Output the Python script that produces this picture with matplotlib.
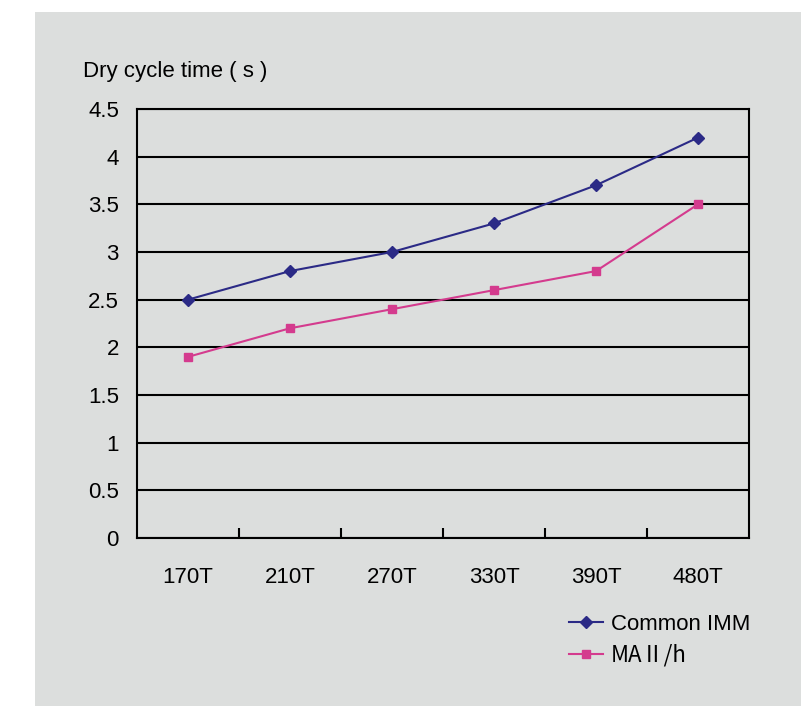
import matplotlib
matplotlib.use("Agg")
import matplotlib.pyplot as plt
from matplotlib.patches import Rectangle
import numpy as np

plt.rcParams['font.family'] = ['Liberation Sans', 'DejaVu Sans']

# datos
categorias = ['170T', '210T', '270T', '330T', '390T', '480T']
common_imm = [2.5, 2.8, 3.0, 3.3, 3.7, 4.2]
ma2h = [1.9, 2.2, 2.4, 2.6, 2.8, 3.5]
yticks = [0, 0.5, 1, 1.5, 2, 2.5, 3, 3.5, 4, 4.5]
ytick_labels = ['0', '0.5', '1', '1.5', '2', '2.5', '3', '3.5', '4', '4.5']

W, H = 807, 706
fig = plt.figure(figsize=(W / 100, H / 100), dpi=100)
fig.patch.set_facecolor('white')
gris = '#dcdedd'
# fondo gris
fig.patches.append(Rectangle((35 / W, 0), (801 - 35) / W, (706 - 12) / H,
                             transform=fig.transFigure, facecolor=gris,
                             edgecolor='none', zorder=-5))

ax = fig.add_axes([137 / W, 1 - 538 / H, (749 - 137) / W, (538 - 109) / H])
ax.set_facecolor(gris)
ax.set_zorder(2)

x = np.arange(len(categorias))
azul = '#2b2a86'
rosa = '#d43b8e'
ax.plot(x, common_imm, color=azul, lw=1.5, marker='D', ms=6,
        label='Common IMM', zorder=3)
ax.plot(x, ma2h, color=rosa, lw=1.5, marker='s', ms=6,
        label='MA\u2161/h', zorder=3)

ax.set_xlim(-0.5, len(categorias) - 0.5)
ax.set_ylim(0, 4.5)
ax.set_yticks(yticks)
ax.set_yticklabels(ytick_labels, fontsize=16)
ax.yaxis.grid(True, color='black', lw=1.5)
ax.set_axisbelow(True)
ax.tick_params(axis='y', length=0, pad=13)

ax.set_xticks(x)
ax.set_xticklabels(categorias, fontsize=16)
ax.tick_params(axis='x', which='major', length=0, pad=21)
ax.set_xticks(np.arange(0.5, len(categorias) - 1, 1), minor=True)
ax.tick_params(axis='x', which='minor', direction='in', length=7, width=1.5)

for s in ax.spines.values():
    s.set_linewidth(1.5)
    s.set_color('black')

fig.text(83 / W, 1 - 71 / H, 'Dry cycle time ( s )', fontsize=16,
         ha='left', va='center')

leg = fig.legend(loc='upper left', bbox_to_anchor=(560 / W, 1 - 605 / H),
                 frameon=False, fontsize=16, handlelength=1.55,
                 handletextpad=0.35, labelspacing=0.4, borderaxespad=0)
# el numeral romano con la fuente CJK (lleva remates)
leg.get_texts()[1].set_fontfamily(['Noto Sans CJK SC', 'DejaVu Sans'])

fig.savefig('out.png', dpi=100, facecolor='white')
